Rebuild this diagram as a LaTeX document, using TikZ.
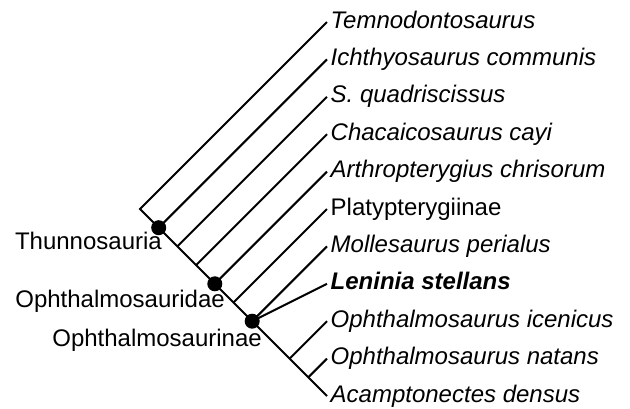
\documentclass[tikz,border=0pt]{standalone}
\usepackage{fontspec}
\setmainfont{Liberation Sans}
\usepackage{tikz}
\usetikzlibrary{positioning}
\newcommand{\taxsize}{\fontsize{24}{28}\selectfont}

\begin{document}
\begin{tikzpicture}[x=1pt, y=-1pt,
  taxon/.style={anchor=west, font=\taxsize\itshape, inner xsep=3.5pt, inner ysep=0pt, text height=17pt, text depth=5pt},
  clade/.style={anchor=base east, font=\taxsize, inner sep=0pt},
  branch/.style={line width=2pt, line join=miter},
  dot/.style={circle, fill=black, minimum size=15pt, inner sep=0pt}
]
  \useasboundingbox (0,0) rectangle (630,408);

  \node[taxon] (temno) at (327,22.0) {Temnodontosaurus};
  \node[taxon] (ichthyo) at (327,59.4) {Ichthyosaurus communis};
  \node[taxon] (squad) at (327,96.8) {S. quadriscissus};
  \node[taxon] (chaca) at (327,134.2) {Chacaicosaurus cayi};
  \node[taxon] (arthro) at (327,171.6) {Arthropterygius chrisorum};
  \node[taxon, font=\taxsize] (platy) at (327,209.0) {Platypterygiinae};
  \node[taxon] (molle) at (327,246.4) {Mollesaurus perialus};
  \node[taxon, font=\taxsize\bfseries\itshape] (leninia) at (327,283.8) {Leninia stellans};
  \node[taxon] (ophicen) at (327,321.2) {Ophthalmosaurus icenicus};
  \node[taxon] (ophnat) at (327,358.6) {Ophthalmosaurus natans};
  \node[taxon] (acampto) at (327,396.0) {Acamptonectes densus};

  \coordinate (root) at (140,209);
  \coordinate (j1) at (158.7,227.7);
  \coordinate (j2) at (177.4,246.4);
  \coordinate (j3) at (196.1,265.1);
  \coordinate (j4) at (214.8,283.8);
  \coordinate (j5) at (233.5,302.5);
  \coordinate (j6) at (252.2,321.2);
  \coordinate (j8) at (289.6,358.6);
  \coordinate (j9) at (308.3,377.3);

  \draw[branch] (temno.west) -- (root) -- (acampto.west);
  \draw[branch] (j1) -- (ichthyo.west);
  \draw[branch] (j2) -- (squad.west);
  \draw[branch] (j3) -- (chaca.west);
  \draw[branch] (j4) -- (arthro.west);
  \draw[branch] (j5) -- (platy.west);
  \draw[branch] (j6) -- (molle.west);
  \draw[branch] (j6) -- (leninia.west);
  \draw[branch] (j8) -- (ophicen.west);
  \draw[branch] (j9) -- (ophnat.west);

  \node[dot] (thunnodot) at (j1) {};
  \node[dot] (ophidaedot) at (j4) {};
  \node[dot] (ophinaedot) at (j6) {};

  \node[clade] (thunno) at (162,249.5) {Thunnosauria};
  \node[clade] (ophidae) at (225,307) {Ophthalmosauridae};
  \node[clade] (ophinae) at (262,346) {Ophthalmosaurinae};
\end{tikzpicture}
\end{document}
